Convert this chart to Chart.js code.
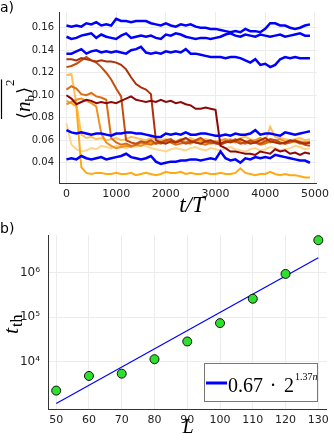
<!DOCTYPE html>
<html>
<head>
<meta charset="utf-8">
<script src="https://cdn.jsdelivr.net/npm/chart.js@4.4.0/dist/chart.umd.min.js"></script>
<style>
html, body { margin: 0; padding: 0; background: #fff; }
#chartA { position: absolute; left: 0; top: 0; }
#chartB { position: absolute; left: 0; top: 220px; }
</style>
</head>
<body>
<canvas id="chartA" width="334" height="215"></canvas>
<canvas id="chartB" width="334" height="225"></canvas>
<script>
// ---- panel a) data, one value every 100 periods ----
var times = [];
for (var t = 0; t <= 4900; t += 100) times.push(t);
var timeTicks = [0, 1000, 2000, 3000, 4000, 5000];
var nbTicks = [0.04, 0.06, 0.08, 0.10, 0.12, 0.14, 0.16];

var blue1 = [0.162,0.161,0.162,0.161,0.164,0.163,0.165,0.162,0.163,0.162, 0.168,0.166,0.166,0.165,0.166,0.166,0.166,0.164,0.163,0.162, 0.164,0.162,0.161,0.163,0.162,0.163,0.161,0.160,0.160,0.159, 0.159,0.158,0.157,0.156,0.157,0.156,0.159,0.157,0.157,0.156, 0.159,0.164,0.164,0.162,0.162,0.160,0.159,0.160,0.162,0.163];
var blue2 = [0.152,0.150,0.151,0.153,0.154,0.155,0.151,0.154,0.152,0.151, 0.150,0.153,0.155,0.151,0.152,0.153,0.152,0.153,0.151,0.150, 0.154,0.153,0.155,0.154,0.152,0.151,0.150,0.151,0.151,0.150, 0.151,0.152,0.154,0.155,0.153,0.152,0.154,0.153,0.152,0.154, 0.153,0.152,0.153,0.154,0.152,0.153,0.154,0.155,0.153,0.153];
var blue3 = [0.137,0.137,0.139,0.141,0.137,0.139,0.140,0.138,0.139,0.138, 0.139,0.138,0.137,0.140,0.141,0.143,0.138,0.137,0.138,0.137, 0.139,0.138,0.139,0.138,0.141,0.137,0.137,0.136,0.135,0.134, 0.134,0.134,0.133,0.134,0.134,0.133,0.131,0.129,0.132,0.127, 0.128,0.125,0.127,0.132,0.134,0.133,0.134,0.133,0.133,0.133];
var blue4 = [0.069,0.067,0.066,0.067,0.066,0.065,0.066,0.066,0.065,0.064, 0.066,0.066,0.067,0.067,0.066,0.066,0.065,0.064,0.063,0.063, 0.066,0.065,0.066,0.065,0.067,0.065,0.065,0.066,0.066,0.065, 0.064,0.064,0.065,0.064,0.066,0.065,0.065,0.066,0.069,0.065, 0.066,0.066,0.065,0.064,0.067,0.066,0.065,0.066,0.067,0.068];
var blue5 = [0.043,0.044,0.043,0.046,0.044,0.043,0.044,0.045,0.043,0.044, 0.045,0.046,0.048,0.045,0.044,0.043,0.044,0.046,0.041,0.039, 0.040,0.041,0.041,0.042,0.042,0.043,0.043,0.042,0.043,0.044, 0.043,0.050,0.044,0.042,0.043,0.040,0.044,0.043,0.045,0.044, 0.045,0.044,0.047,0.046,0.045,0.044,0.043,0.042,0.042,0.040];

var red1 = [0.100,0.097,0.092,0.094,0.096,0.095,0.093,0.094,0.093,0.094, 0.093,0.095,0.097,0.099,0.096,0.095,0.094,0.095,0.094,0.096, 0.094,0.095,0.093,0.094,0.092,0.091,0.088,0.088,0.089,0.088, 0.087,0.055,0.053,0.050,0.050,0.049,0.048,0.048,0.047,0.050, 0.049,0.048,0.052,0.050,0.051,0.048,0.049,0.047,0.049,0.048];
var red2 = [0.132,0.132,0.131,0.133,0.132,0.131,0.130,0.131,0.130,0.130, 0.129,0.127,0.123,0.116,0.110,0.107,0.105,0.101,0.060,0.058, 0.057,0.059,0.058,0.060,0.062,0.059,0.058,0.057,0.059,0.060, 0.058,0.057,0.059,0.058,0.060,0.061,0.059,0.057,0.058,0.060, 0.062,0.059,0.058,0.057,0.058,0.060,0.059,0.058,0.057,0.058];
var red3 = [0.125,0.126,0.128,0.131,0.134,0.131,0.129,0.125,0.120,0.114, 0.106,0.099,0.060,0.058,0.057,0.059,0.058,0.060,0.057,0.058, 0.060,0.061,0.058,0.059,0.057,0.058,0.060,0.062,0.059,0.058, 0.057,0.056,0.058,0.060,0.059,0.057,0.058,0.060,0.058,0.057, 0.059,0.061,0.060,0.058,0.057,0.059,0.060,0.058,0.056,0.055];
var orange1 = [0.105,0.108,0.106,0.101,0.100,0.102,0.099,0.098,0.096,0.062, 0.058,0.056,0.057,0.055,0.056,0.058,0.057,0.056,0.058,0.057, 0.059,0.058,0.056,0.057,0.058,0.060,0.058,0.057,0.056,0.058, 0.059,0.057,0.058,0.059,0.061,0.058,0.057,0.059,0.058,0.056, 0.057,0.059,0.060,0.058,0.057,0.058,0.059,0.057,0.058,0.057];
var orange2 = [0.092,0.094,0.096,0.097,0.095,0.093,0.090,0.066,0.058,0.055, 0.053,0.054,0.055,0.054,0.056,0.055,0.057,0.058,0.057,0.059, 0.058,0.060,0.059,0.061,0.058,0.057,0.059,0.060,0.058,0.057, 0.058,0.060,0.061,0.059,0.058,0.060,0.059,0.058,0.060,0.062, 0.059,0.058,0.060,0.061,0.059,0.058,0.060,0.059,0.058,0.059];
var orange3 = [0.095,0.093,0.090,0.036,0.031,0.030,0.031,0.031,0.030,0.030, 0.031,0.030,0.030,0.031,0.029,0.030,0.031,0.030,0.029,0.030, 0.032,0.031,0.031,0.032,0.030,0.031,0.030,0.030,0.031,0.030, 0.030,0.031,0.030,0.030,0.031,0.035,0.031,0.030,0.029,0.030, 0.030,0.032,0.030,0.029,0.030,0.029,0.029,0.028,0.027,0.027];
var light1 = [0.118,0.119,0.092,0.065,0.062,0.063,0.061,0.062,0.060,0.061, 0.062,0.060,0.061,0.063,0.062,0.061,0.060,0.062,0.061,0.060, 0.061,0.059,0.058,0.060,0.061,0.062,0.060,0.059,0.061,0.060, 0.058,0.059,0.060,0.061,0.059,0.062,0.063,0.061,0.060,0.058, 0.059,0.072,0.063,0.062,0.061,0.060,0.061,0.062,0.060,0.061];
var light2 = [0.075,0.056,0.052,0.050,0.051,0.053,0.052,0.055,0.054,0.053, 0.055,0.054,0.053,0.055,0.054,0.056,0.055,0.053,0.052,0.051, 0.050,0.052,0.053,0.052,0.051,0.053,0.054,0.052,0.051,0.053, 0.052,0.051,0.053,0.054,0.052,0.051,0.050,0.052,0.053,0.051, 0.052,0.054,0.053,0.051,0.052,0.053,0.055,0.054,0.052,0.053];

// ---- panel b) data ----
var sizes = [50, 60, 70, 80, 90, 100, 110, 120, 130];
var tth = [2250, 4800, 5400, 11400, 28500, 73500, 259000, 933000, 5340000];
var fitL = [50, 130];
var fitT = [1150, 2150000];
var sizeTicks = [50, 60, 70, 80, 90, 100, 110, 120, 130];
var tthTicks = [1e4, 1e5, 1e6];

var tickFontA = { family: 'DejaVu Sans', size: 10 };
var tickFontB = { family: 'DejaVu Sans', size: 11 };
var sup = { 4: '\u2074', 5: '\u2075', 6: '\u2076' };

function pts(xs, ys) {
  return xs.map(function (x, i) { return { x: x, y: ys[i] }; });
}

function line(vals, color, w) {
  return { data: pts(times, vals), borderColor: color, borderWidth: w, pointRadius: 0, tension: 0 };
}

// axis labels with math formatting
var labelsA = {
  id: 'labelsA',
  afterDraw: function (chart) {
    var ctx = chart.ctx;
    ctx.save();
    ctx.fillStyle = '#000';
    ctx.font = '14px DejaVu Sans';
    ctx.textBaseline = 'alphabetic';
    ctx.fillText('a)', 0, 12);
    ctx.font = 'italic 23px Liberation Serif';
    ctx.textAlign = 'center';
    ctx.fillText('t/T', 192, 212);
    // rotated y title
    ctx.textAlign = 'left';
    ctx.translate(30, 119);
    ctx.rotate(-Math.PI / 2);
    var x = 0;
    ctx.font = '18px DejaVu Serif';
    ctx.fillText('\u27e8', x, 0); x += ctx.measureText('\u27e8').width;
    ctx.font = 'italic 21px Liberation Serif';
    ctx.fillText('n', x, 0); x += ctx.measureText('n').width;
    ctx.font = '13px Liberation Serif';
    ctx.fillText('b', x, 4); x += ctx.measureText('b').width + 1;
    ctx.font = '18px DejaVu Serif';
    ctx.fillText('\u27e9', x, 0); x += ctx.measureText('\u27e9').width;
    ctx.font = '13px Liberation Serif';
    ctx.fillText('2', x + 1, -16);
    x += ctx.measureText('2').width + 1;
    ctx.strokeStyle = '#000';
    ctx.lineWidth = 1.2;
    ctx.beginPath();
    ctx.moveTo(0, -28.5);
    ctx.lineTo(x, -28.5);
    ctx.stroke();
    ctx.restore();
  }
};

var labelsB = {
  id: 'labelsB',
  afterDraw: function (chart) {
    var ctx = chart.ctx;
    ctx.save();
    ctx.fillStyle = '#000';
    ctx.font = '14px DejaVu Sans';
    ctx.fillText('b)', 0, 13);
    ctx.font = 'italic 20px Liberation Serif';
    ctx.textAlign = 'center';
    ctx.fillText('L', 188, 213);
    ctx.textAlign = 'left';

    // legend box
    ctx.fillStyle = '#fff';
    ctx.fillRect(204, 143, 114, 39);
    ctx.strokeStyle = '#777';
    ctx.lineWidth = 1;
    ctx.strokeRect(204.5, 143.5, 113, 38);
    ctx.strokeStyle = '#0000ff';
    ctx.lineWidth = 3;
    ctx.beginPath();
    ctx.moveTo(206, 163);
    ctx.lineTo(227, 163);
    ctx.stroke();
    ctx.fillStyle = '#000';
    ctx.font = '20px Liberation Serif';
    ctx.fillText('0.67', 228, 172);
    ctx.textAlign = 'center';
    ctx.fillText('\u00b7', 273, 172);
    ctx.textAlign = 'left';
    ctx.fillText('2', 284, 172);
    ctx.font = '10px Liberation Serif';
    ctx.fillText('1.37', 295, 160);
    var w = ctx.measureText('1.37').width;
    ctx.font = 'italic 10px Liberation Serif';
    ctx.fillText('n', 295 + w, 160);

    // rotated y title
    ctx.translate(18, 114);
    ctx.rotate(-Math.PI / 2);
    ctx.font = 'italic 22px Liberation Serif';
    ctx.fillText('t', 0, 0);
    var tw = ctx.measureText('t').width;
    ctx.font = '16px Liberation Serif';
    ctx.fillText('th', tw + 1, 4);
    ctx.restore();
  }
};

new Chart(document.getElementById('chartA'), {
  type: 'line',
  data: {
    datasets: [
      line(blue1, '#0000ff', 2.5),
      line(blue2, '#0000ff', 2.5),
      line(blue3, '#0000ff', 2.5),
      line(blue4, '#0000ff', 2.5),
      line(blue5, '#0000ff', 2.5),
      line(red1, 'rgb(140,8,8)', 2),
      line(red2, 'rgb(172,48,10)', 2),
      line(red3, 'rgb(196,78,14)', 2),
      line(orange1, 'rgb(218,110,22)', 2),
      line(orange2, 'rgb(240,146,30)', 2),
      line(orange3, 'rgb(255,170,20)', 2),
      line(light1, 'rgb(255,192,90)', 2),
      line(light2, 'rgb(255,212,140)', 2)
    ]
  },
  options: {
    responsive: false,
    animation: false,
    layout: { padding: { left: 0, top: 12, right: 10, bottom: 0 } },
    plugins: { legend: { display: false }, tooltip: { enabled: false } },
    scales: {
      x: {
        type: 'linear', min: -150, max: 5040,
        afterBuildTicks: function (s) { s.ticks = timeTicks.map(function (v) { return { value: v }; }); },
        afterFit: function (s) { s.height = 32; },
        grid: { color: '#ececec', drawTicks: false },
        border: { color: '#333' },
        ticks: { font: tickFontB, color: '#222', padding: 5, maxRotation: 0, callback: function (v) { return String(v); } }
      },
      y: {
        min: 0.022, max: 0.174,
        afterBuildTicks: function (s) { s.ticks = nbTicks.map(function (v) { return { value: v }; }); },
        afterFit: function (s) { s.width = 59; },
        grid: { color: '#ececec', drawTicks: false },
        border: { color: '#333' },
        ticks: { font: tickFontA, color: '#222', padding: 5, callback: function (v) { return v.toFixed(2); } }
      }
    }
  },
  plugins: [labelsA]
});

new Chart(document.getElementById('chartB'), {
  data: {
    datasets: [
      {
        type: 'scatter', data: pts(sizes, tth), clip: false,
        backgroundColor: '#2ee02e', borderColor: '#111', borderWidth: 1, pointRadius: 4.5
      },
      {
        type: 'line', data: pts(fitL, fitT),
        borderColor: '#0000ff', borderWidth: 1.2, pointRadius: 0
      }
    ]
  },
  options: {
    responsive: false,
    animation: false,
    layout: { padding: { left: 0, top: 9, right: 6, bottom: 0 } },
    plugins: { legend: { display: false }, tooltip: { enabled: false } },
    scales: {
      x: {
        type: 'linear', min: 47.5, max: 132.6,
        afterBuildTicks: function (s) { s.ticks = sizeTicks.map(function (v) { return { value: v }; }); },
        afterFit: function (s) { s.height = 36; },
        grid: { color: '#ececec', drawTicks: false },
        border: { color: '#333' },
        ticks: { font: tickFontB, color: '#222', padding: 5, maxRotation: 0, callback: function (v) { return String(v); } }
      },
      y: {
        type: 'logarithmic', min: 870, max: 6.9e6,
        afterBuildTicks: function (s) { s.ticks = tthTicks.map(function (v) { return { value: v }; }); },
        afterFit: function (s) { s.width = 48; },
        grid: { color: '#ececec', drawTicks: false },
        border: { color: '#333' },
        ticks: {
          font: { family: 'DejaVu Sans', size: 12 }, color: '#222', padding: 8,
          callback: function (v) { return '10' + sup[Math.round(Math.log10(v))]; }
        }
      }
    }
  },
  plugins: [labelsB]
});
</script>
</body>
</html>
